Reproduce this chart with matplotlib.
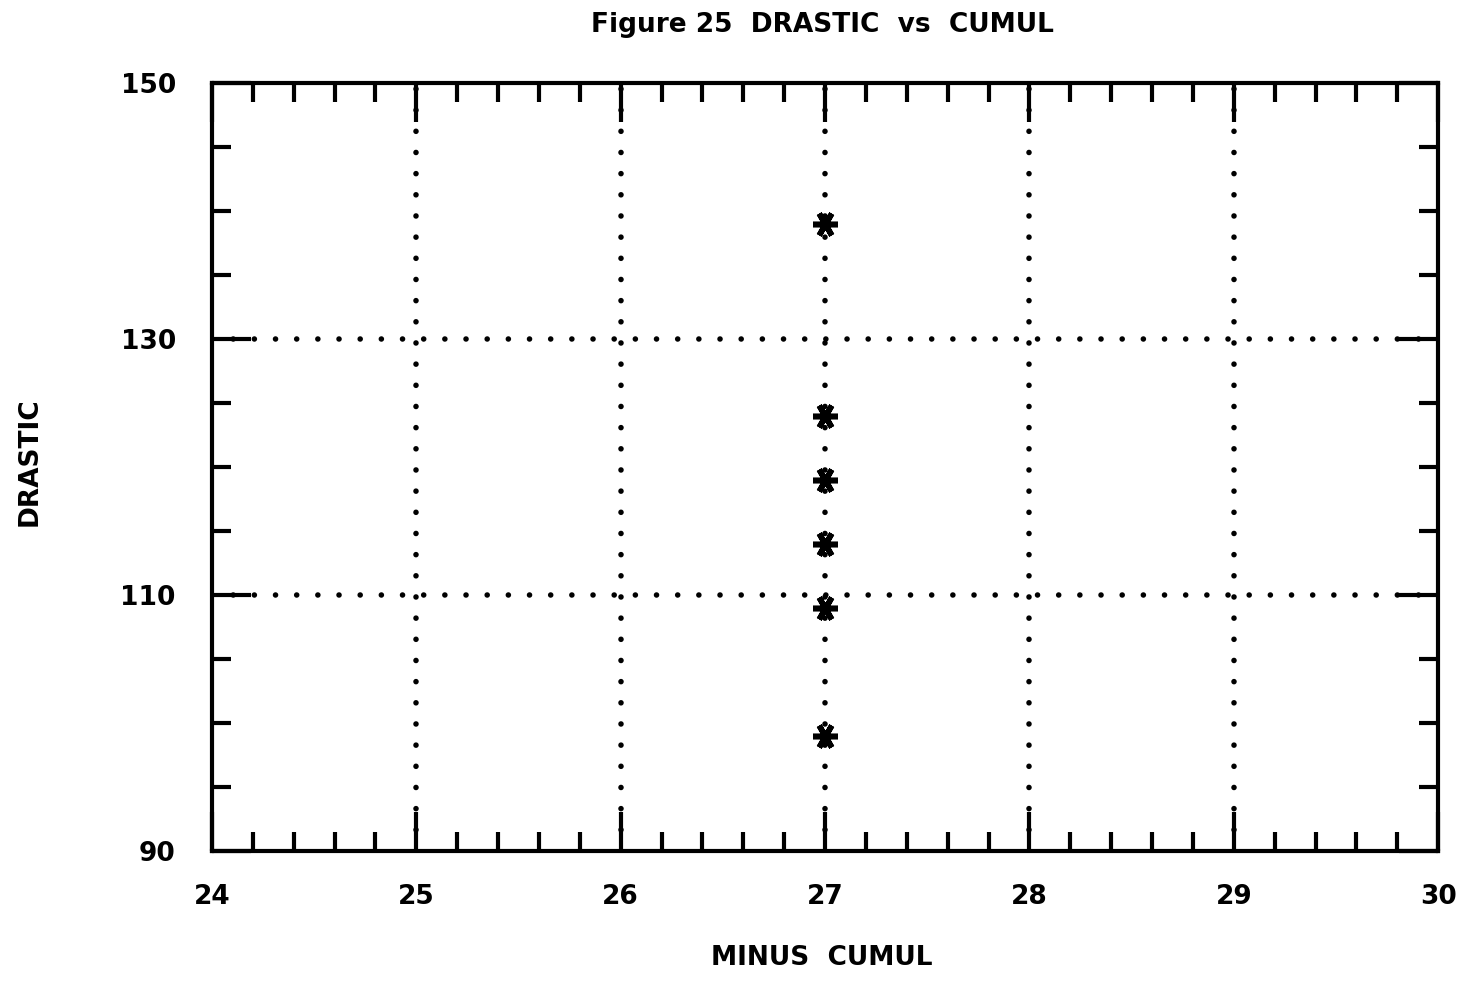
import numpy as np
import matplotlib
matplotlib.use("Agg")
import matplotlib.pyplot as plt
from matplotlib.ticker import MultipleLocator

# Scatter values: DRASTIC score against minus-cumulative value
minus_cumul = [27, 27, 27, 27, 27, 27]
drastic = [139, 124, 119, 114, 109, 99]

x_ticks = [24, 25, 26, 27, 28, 29, 30]
y_ticks = [90, 110, 130, 150]

plt.rcParams["font.family"] = "DejaVu Sans"
plt.rcParams["font.weight"] = "bold"

W, H = 1469, 981
fig = plt.figure(figsize=(W / 100, H / 100), dpi=100)
ax = fig.add_axes([0.1443, 0.1325, 0.8347, 0.7829])

ax.set_xlim(x_ticks[0], x_ticks[-1])
ax.set_ylim(y_ticks[0], y_ticks[-1])
ax.set_xticks(x_ticks)
ax.set_yticks(y_ticks)
ax.xaxis.set_minor_locator(MultipleLocator(0.2))
ax.yaxis.set_minor_locator(MultipleLocator(5))

ax.tick_params(which="both", direction="in", top=True, right=True, width=3,
               labelsize=19)
ax.tick_params(which="major", length=28)
ax.tick_params(which="minor", length=14)
ax.tick_params(axis="x", pad=24)
ax.tick_params(axis="y", pad=26)
for sp in ax.spines.values():
    sp.set_linewidth(3)

# dotted grid of round dots on the interior major ticks only
dot = dict(color="black", linewidth=4, linestyle=(0, (0.01, 3.8)),
           dash_capstyle="round", zorder=1)
for xv in x_ticks[1:-1]:
    ax.axvline(xv, **dot)
for yv in y_ticks[1:-1]:
    ax.axhline(yv, **dot)

ax.plot(minus_cumul, drastic, linestyle="none", marker=(6, 2, 90),
        markersize=18, markeredgewidth=4, color="black", zorder=5)

fig.text(822 / W, 1 - 25 / H, "Figure 25  DRASTIC  vs  CUMUL", fontsize=19,
         fontweight="bold", ha="center", va="center")
fig.text(822 / W, 1 - 958 / H, "MINUS  CUMUL", fontsize=19,
         fontweight="bold", ha="center", va="center")
fig.text(30 / W, 1 - 462 / H, "DRASTIC", fontsize=19, fontweight="bold",
         rotation=90, ha="center", va="center")

fig.savefig("out.png", dpi=100)
